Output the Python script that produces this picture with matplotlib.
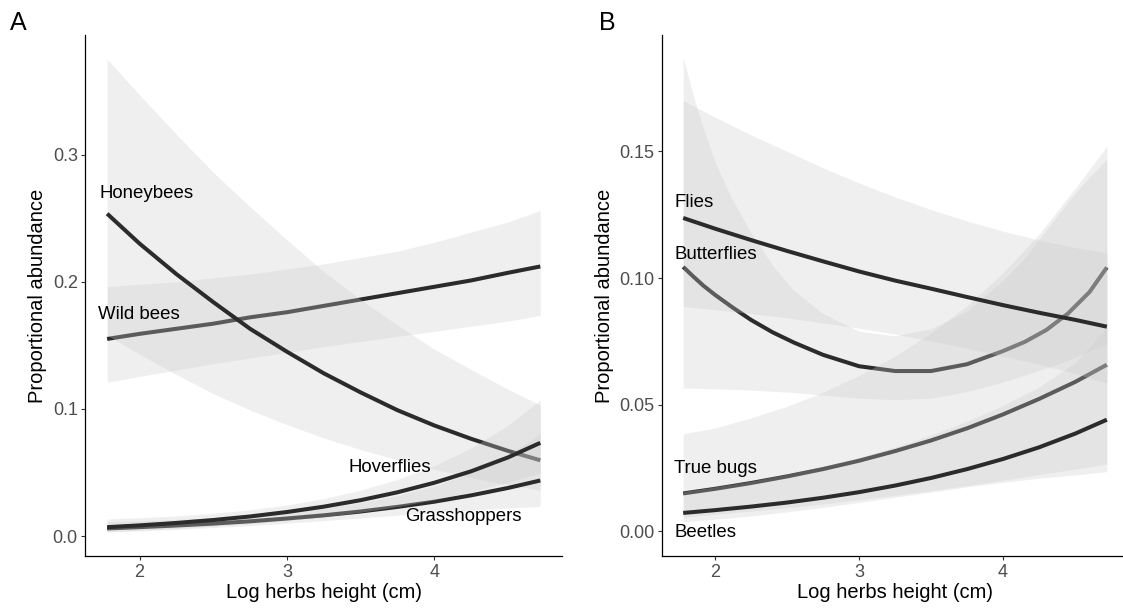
import matplotlib
matplotlib.use('Agg')
import matplotlib.pyplot as plt

plt.rcParams['font.family'] = ['Liberation Sans', 'DejaVu Sans']

# x grid (log herbs height) shared by most curves
herbs = [1.78, 2.0, 2.25, 2.5, 2.75, 3.0, 3.25, 3.5, 3.75, 4.0, 4.25, 4.5, 4.72]
# butterflies bend a lot, so read at more points
herbs_bf = [1.78, 1.85, 1.92, 2.0, 2.12, 2.25, 2.4, 2.55, 2.75, 3.0, 3.25, 3.5, 3.75,
            4.0, 4.15, 4.3, 4.45, 4.6, 4.72]

# panel A
wild_fit = [0.155, 0.159, 0.163, 0.167, 0.172, 0.176, 0.181, 0.186, 0.191, 0.196, 0.201, 0.207, 0.212]
wild_hi = [0.196, 0.198, 0.200, 0.203, 0.206, 0.210, 0.214, 0.219, 0.224, 0.231, 0.239, 0.247, 0.256]
wild_lo = [0.121, 0.1255, 0.1305, 0.1355, 0.140, 0.1445, 0.149, 0.153, 0.157, 0.161, 0.165, 0.169, 0.1735]

honey_fit = [0.2535, 0.230, 0.206, 0.184, 0.163, 0.145, 0.128, 0.113, 0.099, 0.087, 0.0765, 0.067, 0.0596]
honey_hi = [0.375, 0.347, 0.316, 0.286, 0.259, 0.233, 0.208, 0.186, 0.166, 0.147, 0.131, 0.1155, 0.103]
honey_lo = [0.158, 0.143, 0.127, 0.112, 0.099, 0.0876, 0.0772, 0.068, 0.0598, 0.0525, 0.046, 0.0404, 0.036]

grass_fit = [0.006, 0.0070, 0.0083, 0.0098, 0.0116, 0.0138, 0.0163, 0.0193, 0.0229, 0.0270, 0.0320, 0.0378, 0.0437]
grass_hi = [0.0114, 0.0121, 0.0131, 0.0144, 0.0163, 0.0187, 0.0219, 0.0262, 0.0319, 0.0395, 0.0498, 0.0638, 0.0805]
grass_lo = [0.0031, 0.0040, 0.0052, 0.0067, 0.0083, 0.0101, 0.0121, 0.0142, 0.0164, 0.0185, 0.0204, 0.0220, 0.0233]

hover_fit = [0.007, 0.0084, 0.0103, 0.0126, 0.0154, 0.0189, 0.0231, 0.0282, 0.0344, 0.0419, 0.0509, 0.0618, 0.0733]
hover_hi = [0.0134, 0.0144, 0.0158, 0.0179, 0.0206, 0.0244, 0.0294, 0.0361, 0.0445, 0.0554, 0.0692, 0.087, 0.107]
hover_lo = [0.0036, 0.0046, 0.006, 0.0077, 0.0098, 0.0122, 0.0152, 0.0188, 0.0232, 0.0285, 0.0348, 0.0422, 0.0497]

# panel B
butter_fit = [0.1044, 0.1006, 0.0970, 0.0934, 0.0885, 0.0835, 0.0786, 0.0745, 0.0697, 0.0652, 0.0633,
              0.0633, 0.0660, 0.0712, 0.0748, 0.0795, 0.0860, 0.0945, 0.1042]
butter_hi = [0.187, 0.172, 0.159, 0.146, 0.131, 0.118, 0.105, 0.095, 0.086, 0.079, 0.0772,
             0.080, 0.087, 0.099, 0.108, 0.119, 0.130, 0.140, 0.147]
butter_lo = [0.0566, 0.0565, 0.0564, 0.0563, 0.0561, 0.0558, 0.0553, 0.0548, 0.0538, 0.0526, 0.052,
             0.0526, 0.0552, 0.059, 0.0617, 0.0645, 0.0675, 0.0712, 0.074]

bugs_fit = [0.015, 0.0168, 0.0191, 0.0217, 0.0246, 0.0279, 0.0317, 0.0359, 0.0407, 0.0462, 0.0523, 0.0590, 0.0658]
bugs_hi = [0.0386, 0.0408, 0.0448, 0.0494, 0.0549, 0.0615, 0.0692, 0.0783, 0.0891, 0.1021, 0.1173, 0.1354, 0.152]
bugs_lo = [0.0055, 0.0068, 0.0080, 0.0093, 0.0108, 0.0125, 0.0142, 0.0161, 0.0181, 0.0202, 0.0224, 0.0246, 0.0265]

beetle_fit = [0.0073, 0.0084, 0.0098, 0.0114, 0.0133, 0.0155, 0.0181, 0.0211, 0.0246, 0.0286, 0.0332, 0.0386, 0.0441]
beetle_hi = [0.0158, 0.0176, 0.0199, 0.0226, 0.0257, 0.0292, 0.0333, 0.038, 0.0435, 0.0498, 0.057, 0.0665, 0.0805]
beetle_lo = [0.0038, 0.0048, 0.0061, 0.0077, 0.0095, 0.0114, 0.0135, 0.0155, 0.0176, 0.0194, 0.0210, 0.0223, 0.0236]

flies_fit = [0.1237, 0.1195, 0.115, 0.1107, 0.1066, 0.1026, 0.0990, 0.0958, 0.0925, 0.0893, 0.0863, 0.0835, 0.0808]
flies_hi = [0.170, 0.1635, 0.1565, 0.150, 0.1435, 0.1375, 0.132, 0.127, 0.1225, 0.1185, 0.115, 0.112, 0.110]
flies_lo = [0.0888, 0.0875, 0.086, 0.0843, 0.0823, 0.0802, 0.0779, 0.0752, 0.0723, 0.0692, 0.066, 0.0623, 0.0586]

# drawing order matters: later ribbons wash out earlier lines
panel_a = [(herbs, wild_fit, wild_lo, wild_hi), (herbs, honey_fit, honey_lo, honey_hi),
           (herbs, grass_fit, grass_lo, grass_hi), (herbs, hover_fit, hover_lo, hover_hi)]
panel_b = [(herbs_bf, butter_fit, butter_lo, butter_hi), (herbs, bugs_fit, bugs_lo, bugs_hi),
           (herbs, beetle_fit, beetle_lo, beetle_hi), (herbs, flies_fit, flies_lo, flies_hi)]

labels_a = [('Honeybees', 1.73, 0.269), ('Wild bees', 1.715, 0.1745),
            ('Hoverflies', 3.42, 0.054), ('Grasshoppers', 3.80, 0.0153)]
labels_b = [('Flies', 1.717, 0.1297), ('Butterflies', 1.717, 0.1094),
            ('True bugs', 1.717, 0.0247), ('Beetles', 1.717, -0.0004)]

line_col = '#2b2b2b'
band_col = '#cccccc'


def draw_panel(ax, groups, labels, ylim, yticks, yticklabels):
    z = 1
    for x, fit, lo, hi in groups:
        ax.fill_between(x, lo, hi, color=band_col, alpha=0.3, lw=0, zorder=z)
        ax.plot(x, fit, color=line_col, lw=2.9, solid_capstyle='butt', zorder=z + 1)
        z += 2
    for txt, x, y in labels:
        ax.text(x, y, txt, fontsize=13.4, ha='left', va='center', color='black', zorder=20)
    ax.set_xlim(1.633, 4.867)
    ax.set_ylim(*ylim)
    ax.set_xticks([2, 3, 4])
    ax.set_yticks(yticks)
    ax.set_yticklabels(yticklabels)
    for s in ['top', 'right']:
        ax.spines[s].set_visible(False)
    for s in ['left', 'bottom']:
        ax.spines[s].set_linewidth(0.9)
        ax.spines[s].set_color('black')
    ax.tick_params(length=3, width=0.8, color='#333333', labelcolor='#4d4d4d',
                   labelsize=13, pad=2.5)
    ax.set_xlabel('Log herbs height (cm)', fontsize=14.5, labelpad=2)
    ax.set_ylabel('Proportional abundance', fontsize=14.5, labelpad=4)


fig = plt.figure(figsize=(11.23, 6.09), dpi=100)
ax1 = fig.add_axes([0.0761, 0.087, 0.4243, 0.8555])
ax2 = fig.add_axes([0.5895, 0.087, 0.415, 0.8555])

draw_panel(ax1, panel_a, labels_a, (-0.0157, 0.394),
           [0.0, 0.1, 0.2, 0.3], ['0.0', '0.1', '0.2', '0.3'])
draw_panel(ax2, panel_b, labels_b, (-0.0097, 0.1959),
           [0.0, 0.05, 0.10, 0.15], ['0.00', '0.05', '0.10', '0.15'])

fig.text(0.009, 0.962, 'A', fontsize=18, ha='left', va='center')
fig.text(0.533, 0.962, 'B', fontsize=18, ha='left', va='center')

fig.savefig('out.png', dpi=100)
